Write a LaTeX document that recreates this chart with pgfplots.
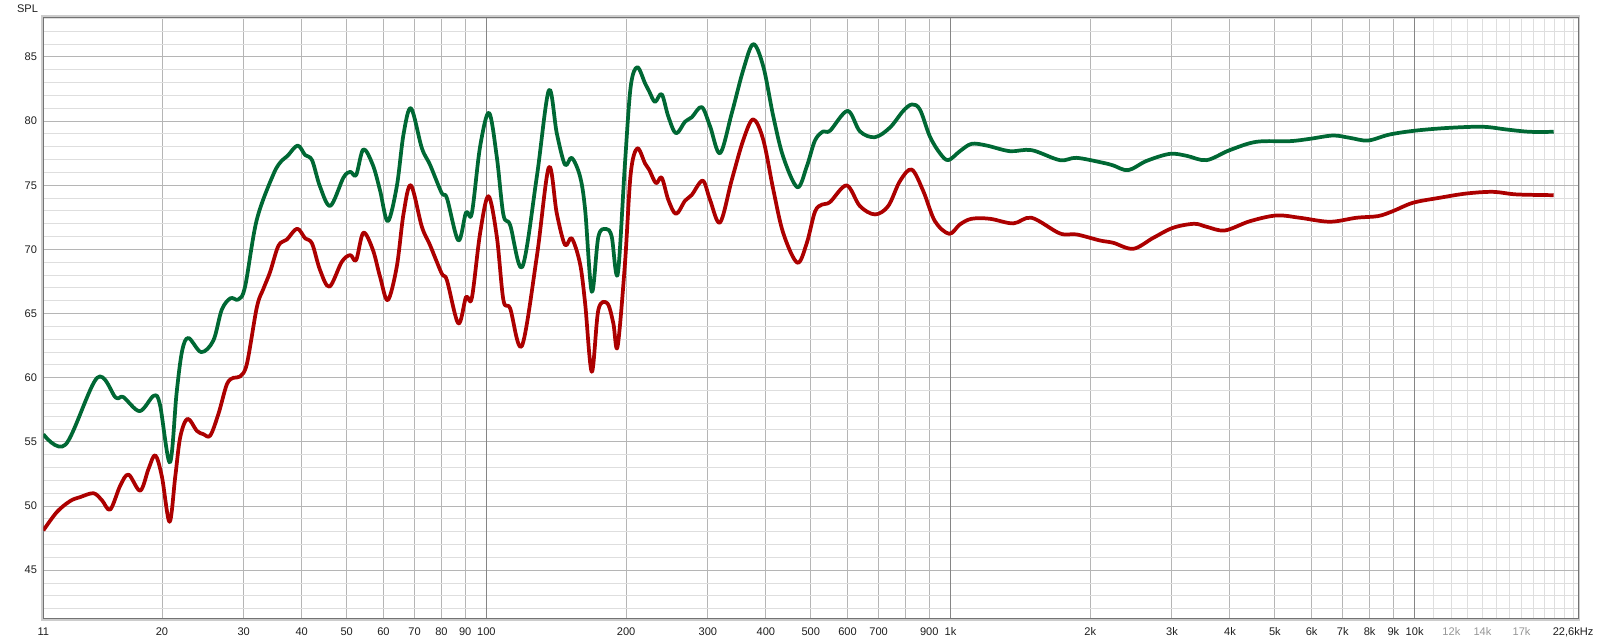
\documentclass[border=0pt]{standalone}
\usepackage{pgfplots}
\pgfplotsset{compat=1.18}
\usepackage{fontspec}
\setmainfont{Liberation Sans}
\definecolor{spgreen}{RGB}{0,104,52}
\definecolor{spred}{RGB}{172,0,0}
\definecolor{labgray}{RGB}{150,150,150}
\definecolor{txt}{RGB}{30,30,30}
\begin{document}
\begin{tikzpicture}
\useasboundingbox (0,0) rectangle (1200pt,482.25pt);
% grid axis
\begin{axis}[
  name=G, at={(32.5pt,18.5pt)}, anchor=south west,
  scale only axis, width=1151pt, height=450.45pt,
  xmode=log, xmin=11.1, xmax=22500, ymin=41.25, ymax=88.06,
  xtick={20,30,40,50,60,70,80,90,200,300,400,500,600,700,800,900,2000,3000,4000,5000,6000,7000,8000,9000},
  minor xtick={11000,12000,13000,14000,15000,16000,17000,18000,19000,20000,21000,22000},
  extra x ticks={100,1000,10000},
  extra x tick labels={},
  extra x tick style={major grid style={draw=black!48, line width=0.75pt}},
  ytick={45,50,55,60,65,70,75,80,85},
  minor ytick={42,43,44,46,47,48,49,51,52,53,54,56,57,58,59,61,62,63,64,66,67,68,69,71,72,73,74,76,77,78,79,81,82,83,84,86,87,88},
  grid=both,
  major grid style={draw=black!29, line width=0.75pt},
  minor grid style={draw=black!13, line width=0.75pt},
  xticklabels={}, yticklabels={},
  major tick length=0pt, minor tick length=0pt,
  axis line style={draw=none},
]
\addplot[draw=none] coordinates {(100,60)};
\end{axis}
% data axis
\begin{axis}[
  name=B, at={(32.5pt,18.5pt)}, anchor=south west,
  scale only axis, width=1151pt, height=450.45pt,
  xmode=log, xmin=11.1, xmax=22500, ymin=41.25, ymax=88.06,
  xtick={11.1,20,30,40,50,60,70,80,90,100,200,300,400,500,600,700,900,1000,2000,3000,4000,5000,6000,7000,8000,9000,10000,12000,14000,17000,22500},
  xticklabels={11,20,30,40,50,60,70,80,90,100,200,300,400,500,600,700,900,1k,2k,3k,4k,5k,6k,7k,8k,9k,10k,{\textcolor{labgray}{12k}},{\textcolor{labgray}{14k}},{\textcolor{labgray}{17k}},{\makebox[0pt][r]{22,6kHz\hspace{-11.5pt}}}},
  ytick={45,50,55,60,65,70,75,80,85},
  major tick length=0pt, minor tick length=0pt,
  /pgf/number format/assume math mode=true,
  tick label style={font=\fontsize{8.3}{10}\selectfont, text=txt},
  xticklabel style={yshift=-3.6pt},
  yticklabel style={xshift=-1.2pt},
  axis line style={draw=black!55, line width=0.75pt},
  clip=true,
]
\addplot[smooth, tension=0.55, line width=2.8pt, color=spred, line join=round] coordinates {
(11.1,48.1) (11.88,49.55) (12.69,50.4) (13.33,50.7) (14.24,51.0) (14.85,50.45) (15.47,49.73)
(16.26,51.6) (16.94,52.45) (17.95,51.2) (18.71,52.9) (19.34,53.96) (19.99,52.3) (20.76,48.77)
(21.36,52.3) (21.9,55.4) (22.7,56.8) (23.78,55.86) (24.57,55.6) (25.41,55.5) (26.47,57.2)
(27.6,59.5) (28.51,60.0) (29.47,60.1) (30.48,61.1) (32.02,65.5) (33.09,66.95) (34.2,68.25)
(35.65,70.3) (37.16,70.77) (39.1,71.62) (40.7,70.86) (42.1,70.47) (43.8,68.4) (45.9,67.1)
(48.8,69.04) (50.9,69.56) (52.4,69.17) (54.3,71.3) (56.9,70.0) (59.0,67.87) (61.3,66.05)
(64.1,68.65) (66.3,72.8) (68.75,75.0) (72.6,71.77) (75.6,70.34) (80.1,68.13) (82.2,67.6)
(87.0,64.23) (90.4,66.3) (93.0,66.2) (96.9,71.25) (101.0,74.15) (105.3,71.0) (108.8,66.05)
(112.5,65.4) (119.2,62.47) (128.4,69.43) (136.3,76.4) (141.8,72.8) (147.7,70.35) (152.7,70.87)
(159.1,68.9) (163.2,65.8) (168.7,60.47) (174.3,65.3) (182.2,65.8) (187.7,64.25) (191.7,62.42)
(198.9,68.9) (204.6,75.9) (211.4,77.88) (219.7,76.7) (224.4,76.2) (232.0,75.16) (238.6,75.6)
(246.6,73.86) (256.2,72.77) (267.9,73.8) (277.0,74.25) (292.5,75.36) (303.3,73.86) (318.7,72.1)
(337.7,75.4) (357.7,78.53) (375.8,80.14) (395.1,78.53) (415.2,74.64) (436.2,71.26) (467.6,68.97)
(489.9,70.48) (510.5,72.95) (529,73.5) (549.9,73.69) (597.3,74.99) (638,73.38) (687.4,72.73)
(734,73.38) (778,75.32) (824.6,76.23) (873.5,74.55) (925.6,72.2) (993.6,71.22) (1047.6,71.95)
(1110,72.39) (1216,72.39) (1365,72.03) (1495,72.47) (1720,71.25) (1869,71.17) (2098,70.7)
(2241,70.52) (2475,70.05) (2733,70.9) (3017,71.69) (3350,72.0) (3560,71.77) (3899,71.48)
(4415,72.2) (5039,72.65) (5656,72.47) (6566,72.16) (7491,72.47) (8341,72.6) (8984,72.99)
(9922,73.64) (11330,74.03) (12930,74.36) (14750,74.49) (16570,74.29) (19940,74.23)
};
\addplot[smooth, tension=0.55, line width=2.8pt, color=spgreen, line join=round] coordinates {
(11.1,55.6) (12.4,54.8) (14.5,60.0) (15.9,58.45) (16.5,58.5) (17.9,57.4) (19.2,58.6) (19.8,57.9)
(20.8,53.4) (21.5,58.8) (22.1,62.1) (22.8,63.1) (24.3,62.0) (25.8,62.9) (26.9,65.3) (28.1,66.2)
(29.2,66.1) (30.2,67.1) (32.0,72.3) (34.8,75.9) (36.3,76.95) (37.3,77.3) (39.2,78.1) (40.7,77.35)
(42.1,76.96) (43.8,74.9) (46.1,73.4) (49.2,75.6) (50.9,76.05) (52.4,75.8) (54.3,77.8) (56.9,76.6)
(59.0,74.6) (61.3,72.2) (64.1,74.9) (66.3,79.0) (68.8,81.0) (72.6,77.9) (75.6,76.6) (80.1,74.4)
(82.2,74.0) (87.0,70.7) (90.4,72.9) (93.0,72.8) (96.9,78.0) (101.3,80.65) (105.3,77.2) (108.8,72.7)
(112.5,71.9) (119.5,68.65) (128.4,75.66) (136.3,82.4) (141.8,79.05) (147.7,76.6) (152.7,77.15)
(159.1,75.7) (163.2,73.1) (168.7,66.7) (174.3,71.0) (181.1,71.6) (186.2,71.0) (191.9,68.1)
(198.9,76.7) (204.6,82.7) (211.4,84.2) (219.7,82.95) (224.4,82.3) (230.8,81.5) (238.6,82.1)
(246.6,80.35) (256.2,79.05) (267.9,79.96) (277.0,80.3) (291.0,81.1) (303.3,79.6) (318.7,77.5)
(337.7,80.6) (357.7,84.0) (375.8,86.0) (395.1,84.25) (415.2,80.35) (436.2,77.2) (467.6,74.85)
(489.9,76.45) (510.5,78.5) (531.8,79.2) (549.9,79.25) (600.2,80.8) (638.1,79.2) (687.4,78.75)
(740.4,79.5) (791.0,80.8) (826,81.3) (859.3,80.9) (902.7,78.8) (948.8,77.5) (988.6,76.96)
(1047.6,77.66) (1110,78.23) (1196,78.1) (1342,77.66) (1495,77.74) (1720,76.96) (1869,77.14)
(2133,76.75) (2241,76.55) (2414,76.18) (2645,76.9) (2968,77.45) (3225,77.3) (3560,76.96)
(3996,77.74) (4562,78.39) (5383,78.44) (5943,78.62) (6673,78.88) (7248,78.7) (7937,78.49)
(8839,78.96) (10090,79.27) (11900,79.48) (14040,79.56) (15760,79.35) (17700,79.17) (19940,79.17)
};
\end{axis}
\draw[black!20, line width=1.3pt] ([shift={(-1.1pt,-1.1pt)}]B.south west) rectangle ([shift={(1.1pt,1.1pt)}]B.north east);
\node[font=\fontsize{8.3}{10}\selectfont, text=txt] at (20.6pt,476pt) {SPL};
\end{tikzpicture}
\end{document}
